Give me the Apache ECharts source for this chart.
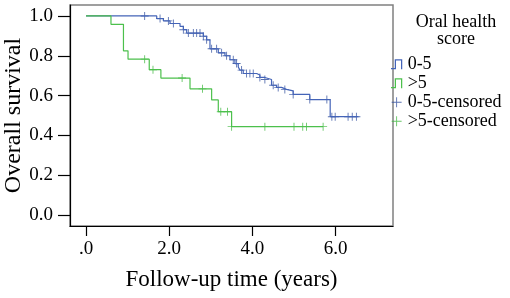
<!DOCTYPE html>
<html>
<head>
<meta charset="utf-8">
<script src="https://cdn.jsdelivr.net/npm/echarts@6/dist/echarts.min.js"></script>
<style>body{margin:0;background:#fff}</style>
</head>
<body>
<div id="km" style="width:510px;height:298px"></div>
<script type="text/javascript">
// Kaplan-Meier steps
var lowTimes  = [0, 1.70, 1.86, 2.02, 2.26, 2.34, 2.42, 2.82, 2.90, 2.98, 3.18, 3.34, 3.46, 3.58, 3.66, 3.70, 3.78, 4.10, 4.18, 4.30, 4.46, 4.58, 4.70, 4.82, 4.98, 5.38, 5.87, 6.55];
var lowSurv   = [1, 0.987, 0.975, 0.962, 0.948, 0.931, 0.914, 0.898, 0.880, 0.835, 0.815, 0.800, 0.780, 0.761, 0.744, 0.728, 0.711, 0.703, 0.691, 0.681, 0.652, 0.641, 0.631, 0.624, 0.606, 0.580, 0.494, 0.494];
var lowCensor = [1.41, 1.78, 1.98, 2.10, 2.34, 2.46, 2.58, 2.66, 2.74, 2.82, 2.90, 3.02, 3.14, 3.26, 3.38, 3.54, 3.62, 3.74, 3.86, 3.94, 4.02, 4.18, 4.30, 4.50, 4.62, 4.78, 4.98, 5.38, 5.79, 5.91, 5.99, 6.30, 6.40, 6.50];

var highTimes  = [0, 0.60, 0.90, 1.01, 1.52, 1.80, 2.50, 3.02, 3.18, 3.50, 5.70];
var highSurv   = [1, 0.958, 0.825, 0.783, 0.730, 0.688, 0.634, 0.578, 0.519, 0.444, 0.444];
var highCensor = [1.41, 1.61, 2.31, 2.80, 3.24, 3.40, 3.50, 4.30, 5.00, 5.21, 5.30, 5.70];

var xTicks = [0, 2, 4, 6];
var yTicks = [0, 0.2, 0.4, 0.6, 0.8, 1.0];

var serif = "'Liberation Serif', 'Times New Roman', serif";
var blue = '#4464b8', green = '#4cc04c';

function steps(times, surv) {
    return times.map(function (t, i) { return [t, surv[i]]; });
}
function censored(times, surv, marks) {
    return marks.map(function (m) {
        var s = surv[0];
        for (var i = 0; i < times.length; i++) {
            if (times[i] <= m) s = surv[i];
        }
        return [m, s];
    });
}

var stepIcon = 'path://M0,7H3V0H9V8H8V1H4V8H0Z';
var plusIcon = 'path://M5,0H6V5H11V6H6V11H5V6H0V5H5Z';
var plusMark = 'path://M4,0H5V4H9V5H5V9H4V5H0V4H4Z';

var myChart = echarts.init(document.getElementById('km'));
var option = {
    animation: false,
    title: {
        text: 'Oral health\nscore',
        left: 451,
        top: 9,
        textAlign: 'center',
        textStyle: {fontFamily: serif, fontSize: 18, fontWeight: 'normal', color: '#000', lineHeight: 17}
    },
    legend: {
        orient: 'vertical',
        left: 386,
        top: 50,
        itemWidth: 12,
        itemHeight: 10,
        itemGap: 0.5,
        textStyle: {fontFamily: serif, fontSize: 18, color: '#000', lineHeight: 18.5},
        data: [
            {name: '0-5', icon: stepIcon},
            {name: '>5', icon: stepIcon},
            {name: '0-5-censored', icon: plusIcon},
            {name: '>5-censored', icon: plusIcon}
        ]
    },
    grid: {
        left: 70, right: 117, top: 5, bottom: 72,
        outerBoundsMode: 'none',
        show: true,
        borderColor: '#808080',
        borderWidth: 1.5
    },
    xAxis: {
        type: 'value',
        min: -0.385,
        max: 7.38,
        name: 'Follow-up time (years)',
        nameLocation: 'middle',
        nameGap: 42,
        nameMoveOverlap: false,
        nameTextStyle: {fontFamily: serif, fontSize: 23, color: '#000'},
        axisLine: {onZero: false, lineStyle: {color: '#000', width: 1.2}},
        axisTick: {show: true, length: 10, customValues: xTicks, lineStyle: {color: '#000', width: 1.2}},
        axisLabel: {
            customValues: xTicks,
            margin: 14,
            fontFamily: serif, fontSize: 19, color: '#000',
            formatter: function (v) { return v === 0 ? '.0' : v.toFixed(1); }
        },
        splitLine: {show: false}
    },
    yAxis: {
        type: 'value',
        min: -0.055,
        max: 1.055,
        name: 'Overall survival',
        nameLocation: 'middle',
        nameGap: 44,
        nameMoveOverlap: false,
        nameTextStyle: {fontFamily: serif, fontSize: 24, color: '#000'},
        axisLine: {show: true, onZero: false, lineStyle: {color: '#000', width: 1.2}},
        axisTick: {show: true, length: 12, customValues: yTicks, lineStyle: {color: '#000', width: 1.2}},
        axisLabel: {
            customValues: yTicks,
            margin: 17,
            fontFamily: serif, fontSize: 19, color: '#000',
            formatter: function (v) { return v.toFixed(1); }
        },
        splitLine: {show: false}
    },
    series: [
        {
            name: '0-5',
            type: 'line',
            step: 'end',
            showSymbol: false,
            color: blue,
            lineStyle: {width: 1.2},
            data: steps(lowTimes, lowSurv)
        },
        {
            name: '>5',
            type: 'line',
            step: 'end',
            showSymbol: false,
            color: green,
            lineStyle: {width: 1.2},
            data: steps(highTimes, highSurv)
        },
        {
            name: '0-5-censored',
            type: 'scatter',
            symbol: plusMark,
            symbolSize: [8, 8],
            color: '#2f4d9e',
            data: censored(lowTimes, lowSurv, lowCensor)
        },
        {
            name: '>5-censored',
            type: 'scatter',
            symbol: plusMark,
            symbolSize: [8, 8],
            color: '#3fb83f',
            data: censored(highTimes, highSurv, highCensor)
        }
    ]
};
myChart.setOption(option);
</script>
</body>
</html>
